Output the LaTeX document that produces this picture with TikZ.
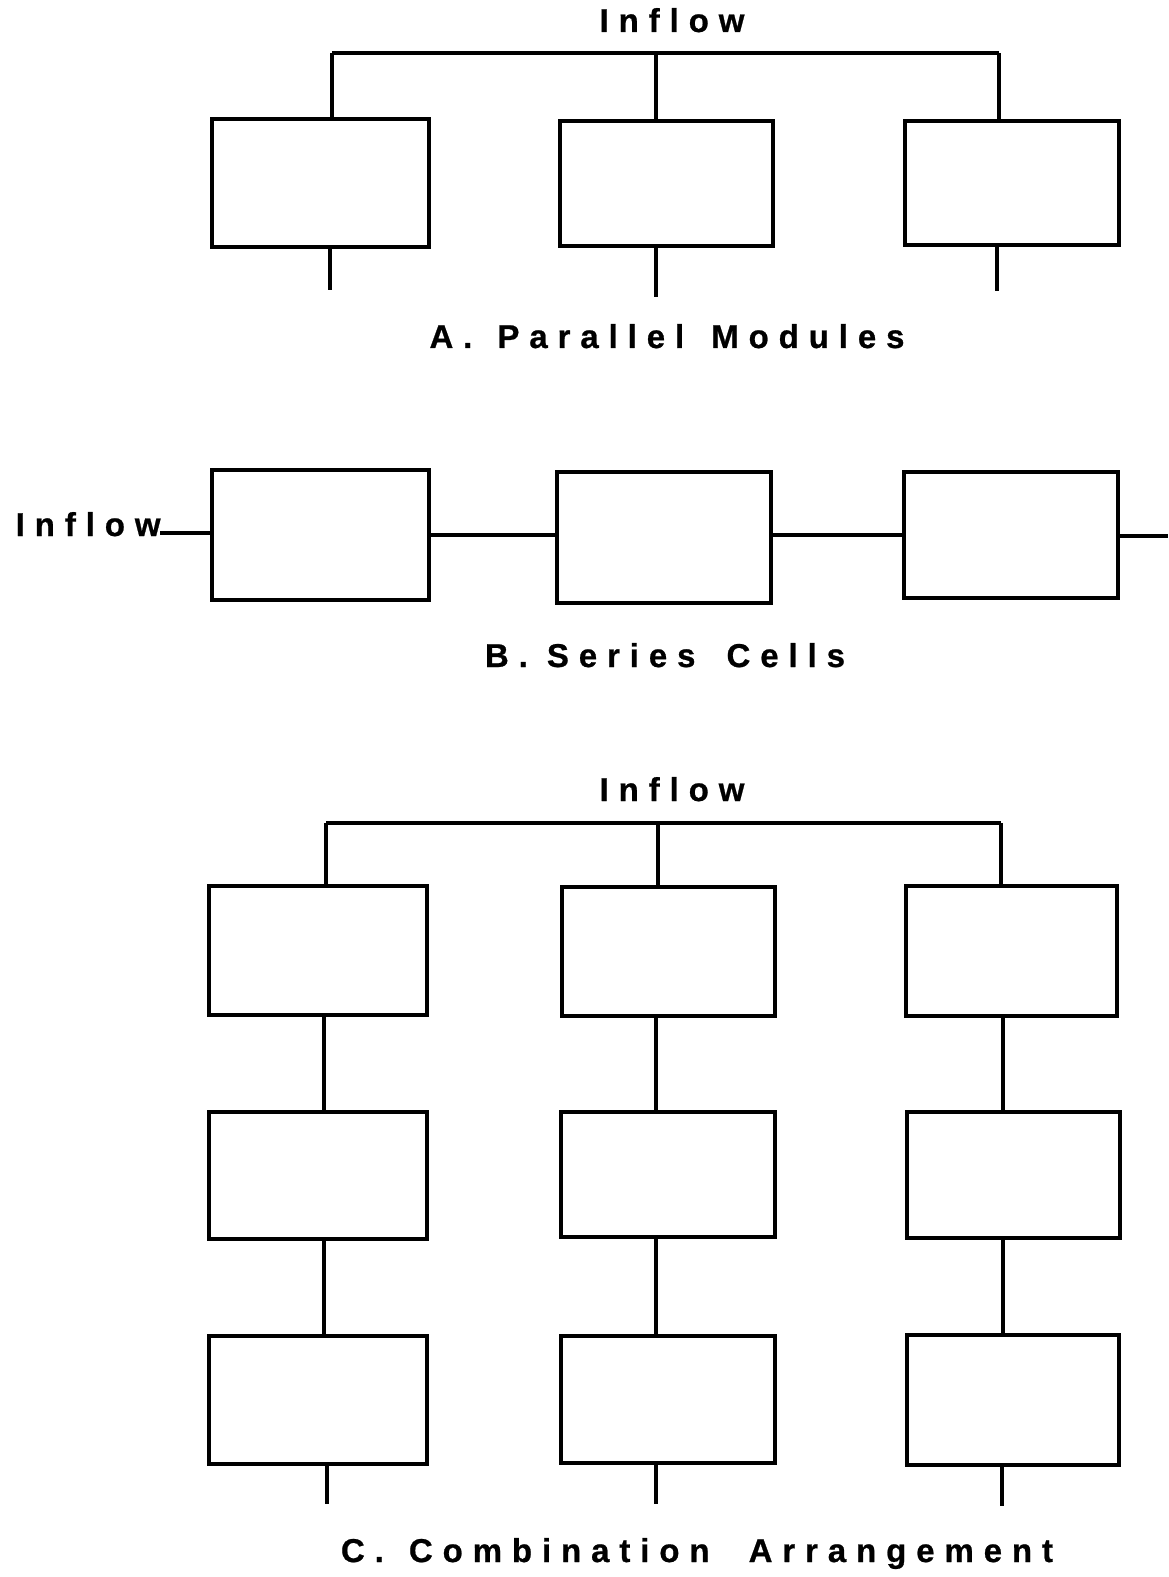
\documentclass[tikz,border=0pt]{standalone}
\usepackage{fontspec}
\newfontfamily\lblfont[LetterSpace=30,FakeBold=0.7]{Liberation Sans}
\usetikzlibrary{fit}
\begin{document}
\begin{tikzpicture}[x=0.5pt,y=-0.5pt,
  line width=1.7pt,
  box/.style={draw, line width=1.8pt, inner sep=0pt, rectangle},
  pipe/.style={draw, line width=1.6pt},
  lbl/.style={inner sep=0pt, font=\lblfont\bfseries\fontsize{16.5pt}{18pt}\selectfont}]
\useasboundingbox (0,0) rectangle (1168,1577);

% ---------- A. Parallel modules ----------
\node[lbl, anchor=base] (inA) at (672,32) {Inflow};
\coordinate (busA1) at (332,53);
\coordinate (busA2) at (656,53);
\coordinate (busA3) at (999,53);
\node[box, fit={(212,119) (429,247)}] (a1) {};
\node[box, fit={(560,121) (773,246)}] (a2) {};
\node[box, fit={(905,121) (1119,245)}] (a3) {};
\coordinate (outA1) at (330,290);
\coordinate (outA2) at (656,297);
\coordinate (outA3) at (997,291);
\draw[pipe] (busA1) -- (busA3);
\draw[pipe] (busA1) -- (busA1 |- a1.north);
\draw[pipe] (busA2) -- (busA2 |- a2.north);
\draw[pipe] (busA3) -- (busA3 |- a3.north);
\draw[pipe] (outA1 |- a1.south) -- (outA1);
\draw[pipe] (outA2 |- a2.south) -- (outA2);
\draw[pipe] (outA3 |- a3.south) -- (outA3);
\node[lbl, anchor=base] (capA) at (667,348) {A.\hspace{3pt} Parallel\hspace{4pt} Modules};

% ---------- B. Series cells ----------
\node[lbl, anchor=base west] (inB) at (14,536) {Inflow};
\node[box, fit={(212,470) (429,600)}] (b1) {};
\node[box, fit={(557,472) (771,603)}] (b2) {};
\node[box, fit={(904,472) (1118,598)}] (b3) {};
\coordinate (startB) at (160,533);
\coordinate (sB) at (0,535);
\coordinate (outB) at (1168,536);
\draw[pipe] (startB) -- (startB -| b1.west);
\draw[pipe] (b1.east |- sB) -- (b2.west |- sB);
\draw[pipe] (b2.east |- sB) -- (b3.west |- sB);
\draw[pipe] (b3.east |- outB) -- (outB);
\node[lbl, anchor=base] (capB) at (665,667) {B. Series\hspace{6pt} Cells};

% ---------- C. Combination arrangement ----------
\node[lbl, anchor=base] (inC) at (672,801) {Inflow};
\coordinate (busC1) at (326,823);
\coordinate (busC2) at (658,823);
\coordinate (busC3) at (1001,823);
% first row
\node[box, fit={(209,886) (427,1015)}] (c11) {};
\node[box, fit={(562,887) (775,1016)}] (c12) {};
\node[box, fit={(906,886) (1117,1016)}] (c13) {};
% second row
\node[box, fit={(209,1112) (427,1239)}] (c21) {};
\node[box, fit={(561,1112) (775,1237)}] (c22) {};
\node[box, fit={(907,1112) (1120,1238)}] (c23) {};
% third row
\node[box, fit={(209,1336) (427,1464)}] (c31) {};
\node[box, fit={(561,1336) (775,1463)}] (c32) {};
\node[box, fit={(907,1335) (1119,1465)}] (c33) {};
% column lines
\coordinate (colC1) at (324,0);
\coordinate (colC2) at (656,0);
\coordinate (colC3) at (1003,0);
\coordinate (outC1) at (327,1504);
\coordinate (outC2) at (656,1504);
\coordinate (outC3) at (1002,1506);
\draw[pipe] (busC1) -- (busC3);
\draw[pipe] (busC1) -- (busC1 |- c11.north);
\draw[pipe] (busC2) -- (busC2 |- c12.north);
\draw[pipe] (busC3) -- (busC3 |- c13.north);
\draw[pipe] (colC1 |- c11.south) -- (colC1 |- c21.north);
\draw[pipe] (colC2 |- c12.south) -- (colC2 |- c22.north);
\draw[pipe] (colC3 |- c13.south) -- (colC3 |- c23.north);
\draw[pipe] (colC1 |- c21.south) -- (colC1 |- c31.north);
\draw[pipe] (colC2 |- c22.south) -- (colC2 |- c32.north);
\draw[pipe] (colC3 |- c23.south) -- (colC3 |- c33.north);
\draw[pipe] (outC1 |- c31.south) -- (outC1);
\draw[pipe] (outC2 |- c32.south) -- (outC2);
\draw[pipe] (outC3 |- c33.south) -- (outC3);
\node[lbl, anchor=base] (capC) at (697,1562) {C.\hspace{3pt} Combination\hspace{10pt} Arrangement};
\end{tikzpicture}
\end{document}
